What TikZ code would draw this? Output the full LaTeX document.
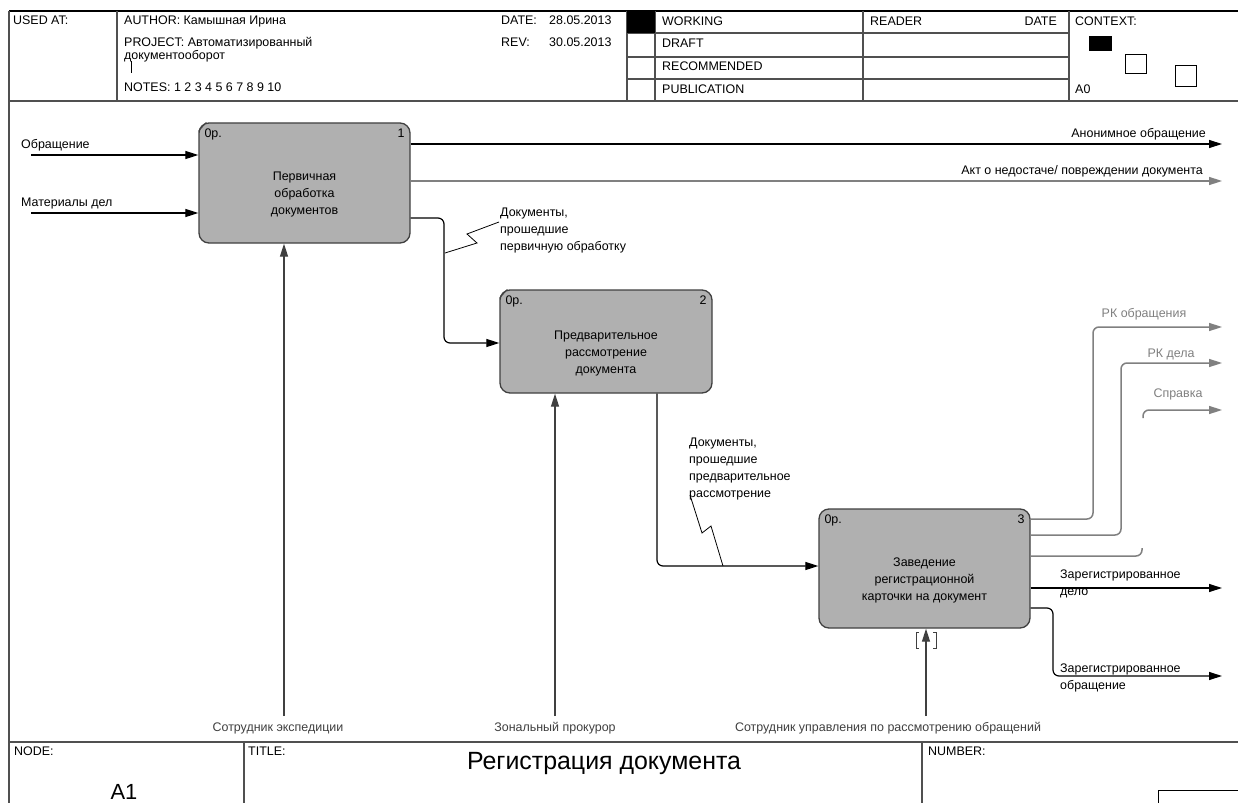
\documentclass[tikz,border=0pt]{standalone}
\usepackage{fontspec}
\setmainfont{Liberation Sans}
\usetikzlibrary{arrows.meta}
\definecolor{boxgray}{HTML}{B0B0B0}
\definecolor{linegray}{HTML}{808080}
\definecolor{dgray}{HTML}{404040}
\definecolor{framegray}{HTML}{505050}
\begin{document}
\begin{tikzpicture}[x=1bp,y=-1bp,
  txt/.style={inner sep=0pt, font=\fontsize{12.5}{15}\selectfont},
  lw/.style={txt, anchor=base west},
  le/.style={txt, anchor=base east},
  lc/.style={txt, anchor=base},
  glab/.style={text=linegray},
  mlab/.style={text=dgray},
  frame/.style={draw=framegray, line width=1.3bp},
  proc/.style={draw=dgray, fill=boxgray, line width=1.3bp, rounded corners=10bp, inner sep=0pt},
  arr/.style={draw=black, line width=1.2bp, rounded corners=6bp, -{Triangle[length=13bp,width=8bp]}},
  garr/.style={draw=linegray, line width=1.5bp, rounded corners=6bp, -{Triangle[length=13bp,width=8bp]}},
  gline/.style={draw=linegray, line width=1.5bp, rounded corners=6bp},
  marr/.style={draw=dgray, line width=1.2bp, -{Triangle[length=13bp,width=8bp]}},
  sq/.style={draw=black, line width=0.9bp}
]
\useasboundingbox (0,0) rectangle (1238,803);
\fill[white] (0,0) rectangle (1238,803);

% ---------- header frame ----------
\draw[draw=black, line width=2bp] (9,11) -- (1238,11);
\draw[frame] (9,11) -- (9,803);
\draw[frame] (9,101) -- (1238,101);
\draw[frame] (117,11) -- (117,101);
\draw[frame] (627,11) -- (627,101);
\draw[frame] (655,11) -- (655,101);
\draw[frame] (863,11) -- (863,101);
\draw[frame] (1069,11) -- (1069,101);
\draw[frame] (627,33) -- (1069,33);
\draw[frame] (627,57) -- (1069,57);
\draw[frame] (627,79) -- (1069,79);
\fill[black] (627,11) rectangle (655,33);
\fill[black] (1089,36) rectangle (1112,51);
\draw[sq] (1125,54) rectangle (1146,73);
\draw[sq] (1175,65) rectangle (1196,86);

\node[lw] (usedat) at (13,25) {USED AT:};
\node[lw] (author) at (124,25) {AUTHOR: Камышная Ирина};
\node[lw] (project) at (124,47) {PROJECT: Автоматизированный};
\node[lw] (project2) at (124,60) {документооборот};
\draw[black, line width=0.5bp] (131,61) -- (131,73);
\node[lw] (notes) at (124,92) {NOTES: 1 2 3 4 5 6 7 8 9 10};
\node[lw] (date) at (501,25) {DATE:};
\node[lw] (dateval) at (549,25) {28.05.2013};
\node[lw] (rev) at (501,47) {REV:};
\node[lw] (revval) at (549,47) {30.05.2013};
\node[lw] (working) at (662,26) {WORKING};
\node[lw] (draft) at (662,48) {DRAFT};
\node[lw] (recom) at (662,71) {RECOMMENDED};
\node[lw] (public) at (662,94) {PUBLICATION};
\node[lw] (reader) at (870,26) {READER};
\node[le] (rdate) at (1057,26) {DATE};
\node[lw] (context) at (1075,26) {CONTEXT:};
\node[lw] (a0) at (1075,94) {A0};

% ---------- footer ----------
\draw[frame] (9,742) -- (1238,742);
\draw[frame] (244,742) -- (244,803);
\draw[frame] (922,742) -- (922,803);
\draw[draw=black, line width=1bp] (1158,803) -- (1158,790) -- (1238,790);
\node[lw] (nodelab) at (14,755) {NODE:};
\node[lw] (titlelab) at (248,755) {TITLE:};
\node[lw] (numlab) at (928,755) {NUMBER:};
\node[txt, anchor=base, font=\fontsize{25}{28}\selectfont] (title) at (604,769) {Регистрация документа};
\node[txt, anchor=base, font=\fontsize{22}{24}\selectfont] (a1) at (124,799) {A1};

% ---------- boxes ----------
\node[proc, minimum width=211bp, minimum height=120bp] (b1) at (304.5,183) {};
\node[proc, minimum width=212bp, minimum height=103bp] (b2) at (606,341.5) {};
\node[proc, minimum width=211bp, minimum height=119bp] (b3) at (924.5,568.5) {};

\foreach \b/\n in {b1/1,b2/2,b3/3}{
  \node[lw] (\b op) at ([shift={(6bp,-15bp)}]\b.north west) {0р.};
  \node[le] (\b num) at ([shift={(-6bp,-15bp)}]\b.north east) {\n};
}
\draw[dgray, line width=0.8bp] ([shift={(0bp,-9bp)}]b1.north west) -- ([shift={(8bp,0bp)}]b1.north west);
\draw[dgray, line width=0.8bp] ([shift={(0bp,-9bp)}]b2.north west) -- ([shift={(8bp,0bp)}]b2.north west);

\node[lc] (b1t1) at ([yshift=3bp]b1.center) {Первичная};
\node[lc] (b1t2) at ([yshift=-14bp]b1.center) {обработка};
\node[lc] (b1t3) at ([yshift=-31bp]b1.center) {документов};
\node[lc] (b2t1) at ([yshift=2bp]b2.center) {Предварительное};
\node[lc] (b2t2) at ([yshift=-15bp]b2.center) {рассмотрение};
\node[lc] (b2t3) at ([yshift=-32bp]b2.center) {документа};
\node[lc] (b3t1) at ([yshift=2bp]b3.center) {Заведение};
\node[lc] (b3t2) at ([yshift=-15bp]b3.center) {регистрационной};
\node[lc] (b3t3) at ([yshift=-32bp]b3.center) {карточки на документ};

% ---------- inputs ----------
\coordinate (i1) at (31,155);
\coordinate (i2) at (31,213);
\draw[arr] (i1) -- (i1 -| b1.west);
\draw[arr] (i2) -- (i2 -| b1.west);
\node[lw] (i1l) at (21,148) {Обращение};
\node[lw] (i2l) at (21,206) {Материалы дел};

% ---------- outputs box 1 ----------
\coordinate (o1) at (1222,144);
\coordinate (o2) at (1222,181);
\draw[arr] (b1.east |- o1) -- (o1);
\draw[garr] (b1.east |- o2) -- (o2);
\node[le] (o1l) at (1206,137) {Анонимное обращение};
\node[le] (o2l) at (1203,174) {Акт о недостаче/ повреждении документа};

\coordinate (c12a) at (444,218);
\coordinate (c12b) at (444,343);
\draw[arr] (b1.east |- c12a) -- (c12a) -- (c12b) -- (c12b -| b2.west);
\node[lw] (c12l1) at (500,216) {Документы,};
\node[lw] (c12l2) at (500,233) {прошедшие};
\node[lw] (c12l3) at (500,250) {первичную обработку};
\draw[black, line width=0.8bp] (499,222) -- (467,234) -- (477,243) -- (445,253);

% ---------- box 2 -> box 3 ----------
\coordinate (c23a) at (657,566);
\draw[arr] (b2.south -| c23a) -- (c23a) -- (c23a -| b3.west);
\node[lw] (c23l1) at (689,446) {Документы,};
\node[lw] (c23l2) at (689,463) {прошедшие};
\node[lw] (c23l3) at (689,480) {предварительное};
\node[lw] (c23l4) at (689,497) {рассмотрение};
\draw[black, line width=0.8bp] (690,495) -- (702,533) -- (711,526) -- (723,566);

% ---------- outputs box 3 ----------
\coordinate (g1a) at (1093,519);
\coordinate (g1b) at (1093,327);
\coordinate (g1e) at (1222,327);
\draw[garr] (b3.east |- g1a) -- (g1a) -- (g1b) -- (g1e);
\node[lc, glab] (g1l) at (1144,317) {РК обращения};

\coordinate (g2a) at (1121,535);
\coordinate (g2b) at (1121,363);
\coordinate (g2e) at (1222,363);
\draw[garr] (b3.east |- g2a) -- (g2a) -- (g2b) -- (g2e);
\node[lc, glab] (g2l) at (1171,357) {РК дела};

\coordinate (g3a) at (1142,556);
\coordinate (g3b) at (1142,548);
\draw[gline] (b3.east |- g3a) -- (g3a) -- (g3b);
\coordinate (g3c) at (1143,418);
\coordinate (g3d) at (1143,410);
\coordinate (g3e) at (1222,410);
\draw[garr] (g3c) -- (g3d) -- (g3e);
\node[lc, glab] (g3l) at (1178,397) {Справка};

\coordinate (k1e) at (1222,588);
\draw[arr] (b3.east |- k1e) -- (k1e);
\node[lw] (k1l1) at (1060,578) {Зарегистрированное};
\node[lw] (k1l2) at (1060,595) {дело};

\coordinate (k2a) at (1053,608);
\coordinate (k2b) at (1053,676);
\coordinate (k2e) at (1222,676);
\draw[arr] (b3.east |- k2a) -- (k2a) -- (k2b) -- (k2e);
\node[lw] (k2l1) at (1060,672) {Зарегистрированное};
\node[lw] (k2l2) at (1060,689) {обращение};

% ---------- mechanisms ----------
\coordinate (m1) at (284,716);
\coordinate (m2) at (555,716);
\coordinate (m3) at (926,716);
\draw[marr] (m1) -- (m1 |- b1.south);
\draw[marr] (m2) -- (m2 |- b2.south);
\draw[marr] (m3) -- (m3 |- b3.south);
\draw[dgray, line width=0.8bp] (919,632) -- (916,632) -- (916,648) -- (919,648);
\draw[dgray, line width=0.8bp] (933,632) -- (936,632) -- (936,648) -- (933,648);
\node[lc, mlab] (m1l) at (278,731) {Сотрудник экспедиции};
\node[lc, mlab] (m2l) at (555,731) {Зональный прокурор};
\node[lc, mlab] (m3l) at (888,731) {Сотрудник управления по рассмотрению обращений};
\end{tikzpicture}
\end{document}
